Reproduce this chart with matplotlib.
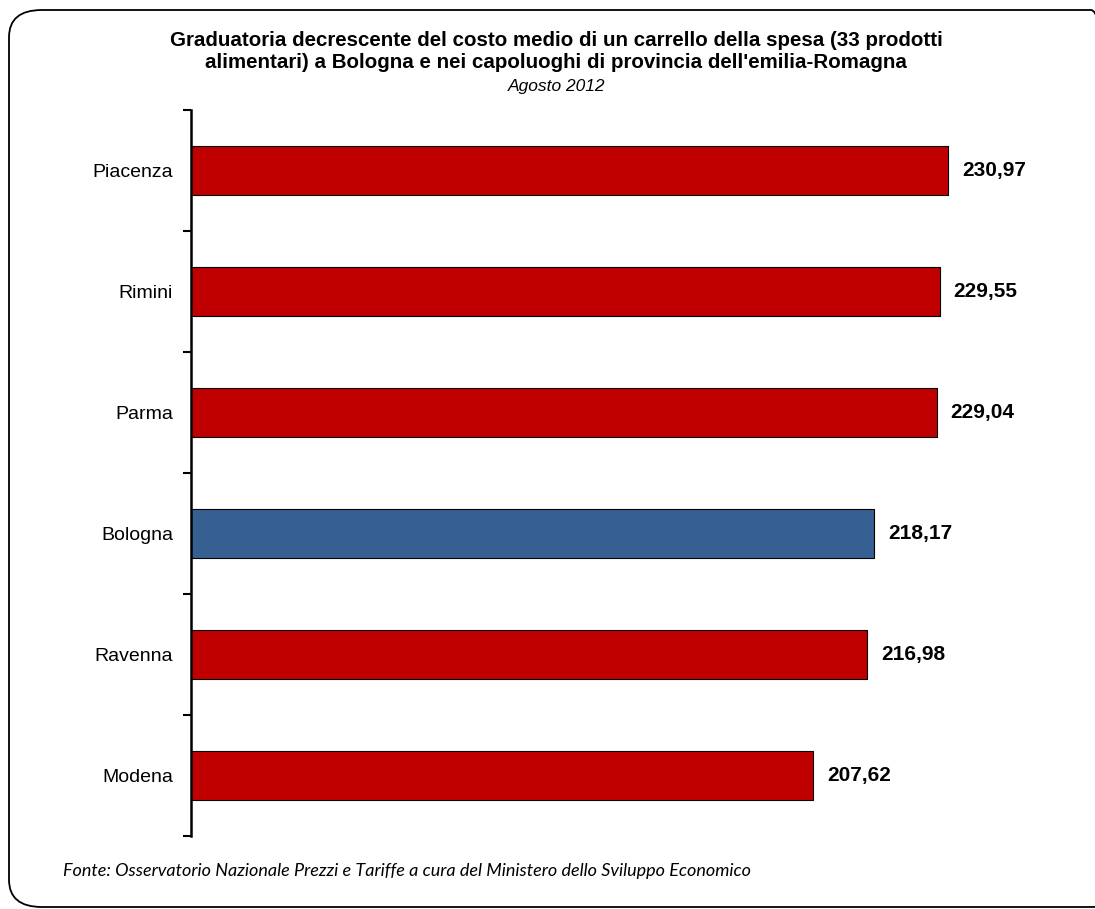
import matplotlib.pyplot as plt
from matplotlib.patches import FancyBboxPatch
import numpy as np

# Data (Agosto 2012, euro)
cities = ['Piacenza', 'Rimini', 'Parma', 'Bologna', 'Ravenna', 'Modena']
costs = [230.97, 229.55, 229.04, 218.17, 216.98, 207.62]
highlight = 'Bologna'

RED = '#C00000'
BLUE = '#376092'

fig = plt.figure(figsize=(10.95, 9.09), dpi=100)

# Rounded chart frame like Excel (right edge runs off the image)
frame = FancyBboxPatch((9 / 1095, 2 / 909), 1115 / 1095, 897 / 909,
                       boxstyle='round,pad=0,rounding_size=0.03',
                       transform=fig.transFigure, fill=False,
                       edgecolor='black', linewidth=1.3, clip_on=False)
fig.patches.append(frame)

ax = fig.add_axes([191 / 1095, 1 - 836 / 909, (1058 - 191) / 1095, 726 / 909])

y = np.arange(len(cities))
colors = [BLUE if c == highlight else RED for c in cities]
ax.barh(y, costs, height=0.4, color=colors, edgecolor='black', linewidth=0.8)

ax.set_xlim(100, 250)
ax.set_ylim(len(cities) - 0.5, -0.5)

# y axis: category labels between boundary ticks
ax.set_yticks(y)
ax.set_yticklabels(cities, fontsize=14, family='Liberation Sans')
ax.tick_params(axis='y', which='major', length=0, pad=13)
ax.set_yticks(np.arange(-0.5, len(cities)), minor=True)
ax.tick_params(axis='y', which='minor', length=6, width=1.5, direction='out')
ax.xaxis.set_visible(False)
for side in ['top', 'right', 'bottom']:
    ax.spines[side].set_visible(False)
ax.spines['left'].set_linewidth(1.8)

for yi, v in zip(y, costs):
    ax.text(v + 2.4, yi, f'{v:.2f}'.replace('.', ','), va='center', ha='left',
            fontsize=15, fontweight='bold', family='Liberation Sans')

fig.text(0.508, 1 - 51 / 909,
         'Graduatoria decrescente del costo medio di un carrello della spesa (33 prodotti\n'
         "alimentari) a Bologna e nei capoluoghi di provincia dell'emilia-Romagna",
         ha='center', va='center', fontsize=14.8, fontweight='bold',
         family='Liberation Sans', linespacing=1.2)
fig.text(0.508, 1 - 87 / 909, 'Agosto 2012', ha='center', va='center',
         fontsize=12.5, style='italic', family='Liberation Sans')

fig.text(63 / 1095, 1 - 871 / 909,
         'Fonte: Osservatorio Nazionale Prezzi e Tariffe a cura del Ministero dello Sviluppo Economico',
         ha='left', va='center', fontsize=13, style='italic', family='Lato')

fig.savefig('out.png', dpi=100)
